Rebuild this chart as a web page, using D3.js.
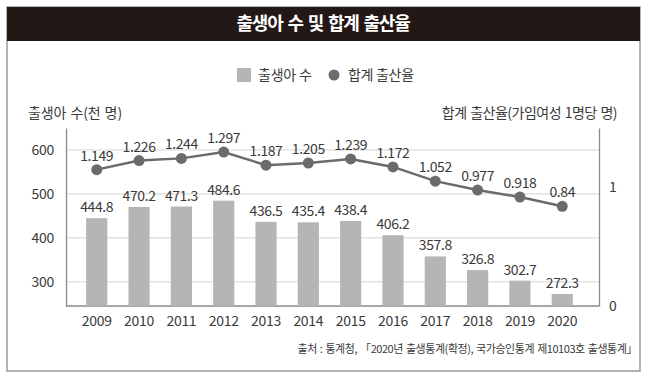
<!DOCTYPE html>
<html>
<head>
<meta charset="utf-8">
<script src="https://cdn.jsdelivr.net/npm/d3@7"></script>
<style>
  body { margin: 0; background: #fff; }
  text { font-family: "Noto Sans CJK KR", "Noto Sans", sans-serif; fill: #3a3a3a; }
</style>
</head>
<body>
<script>
"use strict";

var years = ["2009", "2010", "2011", "2012", "2013", "2014", "2015", "2016", "2017", "2018", "2019", "2020"];
var births = [444.8, 470.2, 471.3, 484.6, 436.5, 435.4, 438.4, 406.2, 357.8, 326.8, 302.7, 272.3];
var fertility = [1.149, 1.226, 1.244, 1.297, 1.187, 1.205, 1.239, 1.172, 1.052, 0.977, 0.918, 0.84];
var leftTicks = [300, 400, 500, 600];
var rightTicks = [0, 1];

var width = 650, height = 374;
var plot = {top: 128, bottom: 306, left: 66, right: 599};

var svg = d3.select('body').append('svg')
  .attr('width', width)
  .attr('height', height);

// frame + title bar
svg.append('rect')
  .attr('x', 7).attr('y', 7)
  .attr('width', 633).attr('height', 364)
  .attr('fill', 'none')
  .attr('stroke', '#9a9a9a')
  .attr('stroke-width', 1.5);

svg.append('rect')
  .attr('x', 7).attr('y', 7)
  .attr('width', 633).attr('height', 34)
  .attr('fill', '#231815');

svg.append('text')
  .attr('x', 323).attr('y', 30)
  .attr('text-anchor', 'middle')
  .style('fill', '#fff')
  .style('font-size', '18px')
  .style('font-weight', 'bold')
  .style('letter-spacing', '-1.2px')
  .style('word-spacing', '2px')
  .text('출생아 수 및 합계 출산율');

// legend
svg.append('rect')
  .attr('x', 237).attr('y', 68)
  .attr('width', 14).attr('height', 14)
  .attr('fill', '#b5b5b5');
svg.append('text')
  .attr('x', 258).attr('y', 80)
  .style('font-size', '14px')
  .style('letter-spacing', '-0.2px')
  .text('출생아 수');
svg.append('circle')
  .attr('cx', 334).attr('cy', 75).attr('r', 5.5)
  .attr('fill', '#6b6b6b');
svg.append('text')
  .attr('x', 348).attr('y', 80)
  .style('font-size', '14px')
  .style('letter-spacing', '-0.3px')
  .text('합계 출산율');

// scales
var x = d3.scaleBand()
  .domain(years)
  .range([65, 594])
  .padding(0.5);

var yLeft = d3.scaleLinear()
  .domain([245, 650])
  .range([plot.bottom, plot.top]);

var yRight = d3.scaleLinear()
  .domain([0, 1.5])
  .range([plot.bottom, plot.top]);

// grid lines
svg.append('g')
  .selectAll('line')
  .data(leftTicks)
  .enter().append('line')
  .attr('x1', plot.left).attr('x2', plot.right)
  .attr('y1', function(d) { return yLeft(d); })
  .attr('y2', function(d) { return yLeft(d); })
  .attr('stroke', '#d4d4d4')
  .attr('stroke-width', 1);

// axes
var leftAxis = svg.append('g')
  .attr('transform', 'translate(' + plot.left + ',0)')
  .call(d3.axisLeft(yLeft).tickValues(leftTicks).tickSize(0).tickPadding(12));

var rightAxis = svg.append('g')
  .attr('transform', 'translate(' + plot.right + ',0)')
  .call(d3.axisRight(yRight).tickValues(rightTicks).tickFormat(d3.format('d'))
    .tickSize(0).tickPadding(10));

var xAxis = svg.append('g')
  .attr('transform', 'translate(0,' + plot.bottom + ')')
  .call(d3.axisBottom(x).tickSize(0).tickPadding(10));

[leftAxis, rightAxis, xAxis].forEach(function(a) {
  a.select('.domain').attr('stroke', '#8a8a8a').attr('stroke-width', 1.3);
  a.selectAll('text')
    .style('font-size', '14px')
    .style('font-family', '"Noto Sans CJK KR", sans-serif')
    .style('letter-spacing', '-0.3px')
    .attr('fill', '#3a3a3a');
});
xAxis.select('.domain').attr('d', 'M' + plot.left + ',0H' + plot.right);

// axis titles
svg.append('text')
  .attr('x', 28).attr('y', 118)
  .style('font-size', '14px')
  .style('letter-spacing', '-0.1px')
  .style('word-spacing', '1px')
  .text('출생아 수(천 명)');

svg.append('text')
  .attr('x', 617).attr('y', 118)
  .attr('text-anchor', 'end')
  .style('font-size', '14px')
  .style('letter-spacing', '-0.5px')
  .style('word-spacing', '1px')
  .text('합계 출산율(가임여성 1명당 명)');

// bars
svg.append('g')
  .selectAll('rect')
  .data(births)
  .enter().append('rect')
  .attr('x', function(d, i) { return x(years[i]); })
  .attr('width', x.bandwidth())
  .attr('y', function(d) { return yLeft(d); })
  .attr('height', function(d) { return plot.bottom - yLeft(d); })
  .attr('fill', '#b5b5b5');

svg.append('g')
  .selectAll('text')
  .data(births)
  .enter().append('text')
  .attr('x', function(d, i) { return x(years[i]) + x.bandwidth() / 2; })
  .attr('y', function(d) { return yLeft(d) - 6; })
  .attr('text-anchor', 'middle')
  .style('font-size', '14px')
  .style('letter-spacing', '-0.4px')
  .text(function(d) { return String(d); });

// line
var line = d3.line()
  .x(function(d, i) { return x(years[i]) + x.bandwidth() / 2; })
  .y(function(d) { return yRight(d); });

svg.append('path')
  .datum(fertility)
  .attr('d', line)
  .attr('fill', 'none')
  .attr('stroke', '#6b6b6b')
  .attr('stroke-width', 2.5);

svg.append('g')
  .selectAll('circle')
  .data(fertility)
  .enter().append('circle')
  .attr('cx', function(d, i) { return x(years[i]) + x.bandwidth() / 2; })
  .attr('cy', function(d) { return yRight(d); })
  .attr('r', 5.5)
  .attr('fill', '#6b6b6b');

svg.append('g')
  .selectAll('text')
  .data(fertility)
  .enter().append('text')
  .attr('x', function(d, i) { return x(years[i]) + x.bandwidth() / 2; })
  .attr('y', function(d) { return yRight(d) - 9; })
  .attr('text-anchor', 'middle')
  .style('font-size', '14px')
  .style('letter-spacing', '-0.4px')
  .text(function(d) { return String(d); });

// source
svg.append('text')
  .attr('x', 637).attr('y', 353)
  .attr('text-anchor', 'end')
  .style('font-size', '11px')
  .style('letter-spacing', '-0.45px')
  .style('word-spacing', '1px')
  .text('출처 : 통계청, 「2020년 출생통계(확정), 국가승인통계 제10103호 출생통계」');
</script>
</body>
</html>
